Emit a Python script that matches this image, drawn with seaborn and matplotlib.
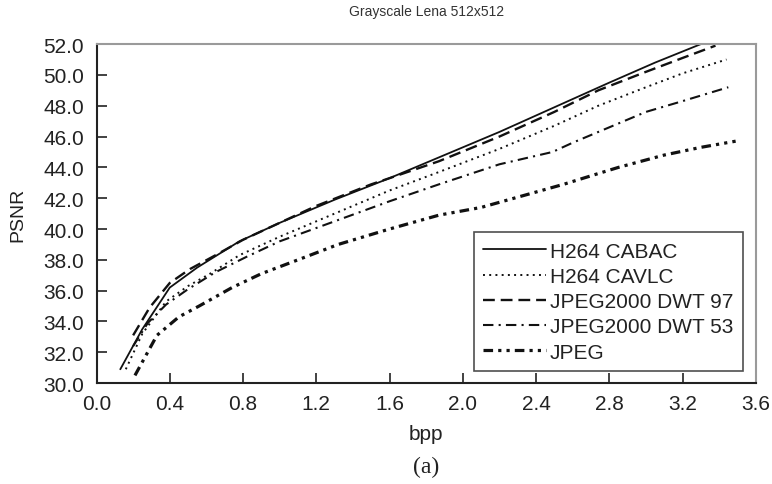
import matplotlib
matplotlib.use("Agg")
import matplotlib.pyplot as plt
import seaborn as sns
import pandas as pd

# ---- data ----
cabac_bpp  = [0.13, 0.25, 0.40, 0.55, 0.78, 1.00, 1.30, 1.60, 1.90, 2.20, 2.50, 2.80, 3.05, 3.30]
cabac_psnr = [30.9, 33.5, 36.2, 37.5, 39.2, 40.4, 41.9, 43.3, 44.8, 46.3, 47.9, 49.5, 50.8, 52.0]

cavlc_bpp  = [0.16, 0.25, 0.38, 0.50, 0.62, 0.78, 1.00, 1.30, 1.60, 1.87, 2.20, 2.50, 2.74, 3.00, 3.20, 3.44]
cavlc_psnr = [30.9, 33.2, 35.3, 36.3, 37.1, 38.3, 39.5, 41.0, 42.5, 43.7, 45.2, 46.7, 48.0, 49.2, 50.1, 51.0]

dwt97_bpp  = [0.20, 0.29, 0.40, 0.51, 0.65, 0.80, 1.00, 1.20, 1.50, 1.60, 1.87, 2.20, 2.50, 2.74, 3.00, 3.20, 3.38]
dwt97_psnr = [33.1, 34.9, 36.5, 37.4, 38.3, 39.3, 40.4, 41.5, 42.9, 43.3, 44.4, 46.0, 47.6, 49.0, 50.2, 51.1, 51.9]

dwt53_bpp  = [0.20, 0.28, 0.38, 0.50, 0.65, 0.82, 1.00, 1.30, 1.60, 1.87, 2.20, 2.49, 2.60, 2.74, 3.00, 3.20, 3.45]
dwt53_psnr = [32.4, 33.9, 35.1, 36.1, 37.2, 38.2, 39.2, 40.5, 41.8, 42.9, 44.2, 45.0, 45.6, 46.3, 47.6, 48.3, 49.2]

jpeg_bpp  = [0.21, 0.27, 0.33, 0.45, 0.56, 0.74, 0.90, 1.10, 1.32, 1.60, 1.87, 2.10, 2.31, 2.55, 2.74, 2.85, 3.10, 3.30, 3.49]
jpeg_psnr = [30.5, 31.8, 33.1, 34.3, 35.0, 36.2, 37.1, 38.0, 39.0, 40.0, 40.9, 41.4, 42.1, 42.9, 43.6, 44.0, 44.8, 45.3, 45.7]

labels = ["H264 CABAC", "H264 CAVLC", "JPEG2000 DWT 97", "JPEG2000 DWT 53", "JPEG"]
xticks = [0.0, 0.4, 0.8, 1.2, 1.6, 2.0, 2.4, 2.8, 3.2, 3.6]
yticks = [30.0, 32.0, 34.0, 36.0, 38.0, 40.0, 42.0, 44.0, 46.0, 48.0, 50.0, 52.0]

series = [
    (cabac_bpp, cabac_psnr),
    (cavlc_bpp, cavlc_psnr),
    (dwt97_bpp, dwt97_psnr),
    (dwt53_bpp, dwt53_psnr),
    (jpeg_bpp, jpeg_psnr),
]
styles = [
    dict(ls="-", lw=1.3),
    dict(ls=(0, (1, 2.2)), lw=1.4),
    dict(ls=(0, (5, 2.5)), lw=1.7),
    dict(ls=(0, (5, 2.5, 1, 2.5)), lw=1.5),
    dict(ls=(0, (3, 1.6, 1, 1.6, 1, 1.6)), lw=2.3),
]

sns.set_theme(style="white")
plt.rcParams["font.family"] = ["Liberation Sans", "DejaVu Sans"]

fig = plt.figure(figsize=(7.72, 4.85), dpi=100)
ax = fig.add_axes([0.125, 0.208, 0.854, 0.699])

for (xs, ys), st, lab in zip(series, styles, labels):
    df = pd.DataFrame({"bpp": xs, "psnr": ys})
    sns.lineplot(data=df, x="bpp", y="psnr", ax=ax, color="#111111",
                 estimator=None, sort=False, label=lab,
                 linestyle=st["ls"], linewidth=st["lw"])

ax.set_xlim(0, 3.6)
ax.set_ylim(30, 52)
ax.set_xticks(xticks)
ax.set_yticks(yticks)
ax.set_xticklabels([f"{t:.1f}" for t in xticks], fontsize=15, color="#222222")
ax.set_yticklabels([f"{t:.1f}" for t in yticks], fontsize=15, color="#222222")
ax.tick_params(axis="both", direction="in", length=7, width=1.2, color="#222222",
               bottom=True, left=True, top=False, right=False)
ax.tick_params(axis="x", pad=7.5)
ax.tick_params(axis="y", pad=9)

for s in ["left", "bottom"]:
    ax.spines[s].set_color("#222222")
    ax.spines[s].set_linewidth(1.5)
for s in ["top", "right"]:
    ax.spines[s].set_color("#9a9a9a")
    ax.spines[s].set_linewidth(1.5)

ax.set_xlabel("bpp", fontsize=15, color="#222222", labelpad=8)
ax.set_ylabel("PSNR", fontsize=14, color="#222222", labelpad=12)

leg = ax.legend(loc="upper right", bbox_to_anchor=(0.980, 0.445), borderaxespad=0,
                frameon=True, fancybox=False, edgecolor="#222222",
                handlelength=3.0, handletextpad=0.2, labelspacing=0.3,
                borderpad=0.45, prop={"size": 15})
leg.get_frame().set_linewidth(1.2)
for t in leg.get_texts():
    t.set_color("#222222")

fig.text(0.552, 0.975, "Grayscale Lena 512x512", ha="center", va="center",
         fontsize=10, color="#333333")
fig.text(0.552, 0.037, "(a)", ha="center", va="center", fontsize=17,
         family=["Liberation Serif", "DejaVu Serif"], color="#222222")

fig.savefig("out.png", dpi=100)
